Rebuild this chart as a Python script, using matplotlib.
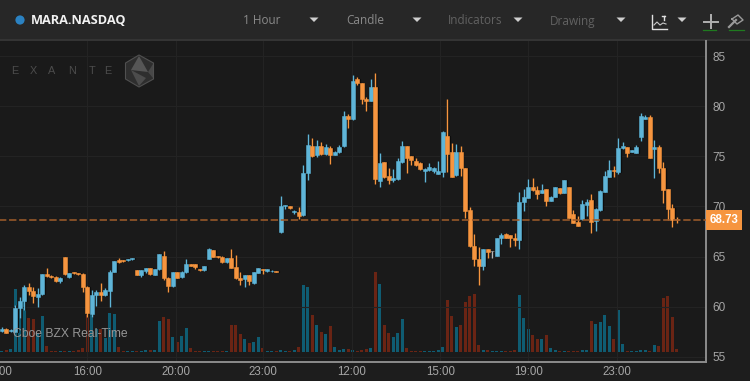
# -*- coding: utf-8 -*-
import matplotlib
matplotlib.use("Agg")
import numpy as np
import matplotlib.pyplot as plt
from matplotlib.patches import Polygon, Circle, Rectangle

# hourly candles
opens = [57.61, 57.81, 57.55, 57.51, 59.84, 60.61, 61.93, 61.57, 61.00, 61.27,
         63.26, 63.10, 63.00, 62.57, 64.93, 62.93, 63.46, 63.33, 63.26, 62.00,
         59.28, 61.17, 61.50, 61.17, 61.60, 63.50, 64.66, 64.66, 64.63, 64.73,
         63.66, 63.16, 63.60, 63.83, 63.20, 63.76, 65.06, 62.90, 62.10, 63.43,
         62.93, 63.43, 64.26, 64.23, 63.76, 63.66, 64.79, 65.66, 65.09, 65.00,
         64.43, 64.86, 64.00, 62.90, 62.76, 63.16, 62.33, 63.40, 63.76, 63.56,
         63.53, 63.55, 67.42, 70.01, 70.04, 69.41, 69.44, 69.11, 73.37, 76.02,
         75.09, 76.02, 75.23, 75.82, 75.16, 75.39, 76.02, 79.01, 78.68, 82.70,
         82.30, 80.71, 80.54, 81.94, 72.57, 74.43, 73.00, 72.60, 72.73, 74.43,
         76.02, 75.03, 74.57, 74.37, 73.54, 73.63, 73.50, 73.27, 73.44, 76.99,
         75.46, 73.14, 75.40, 73.80, 69.65, 66.09, 64.76, 64.07, 65.73, 65.60,
         65.09, 66.82, 67.29, 67.12, 66.82, 66.69, 70.44, 70.84, 71.91, 71.61,
         71.31, 71.74, 70.54, 70.94, 71.80, 71.37, 71.90, 69.25, 68.45, 68.71,
         70.14, 70.61, 68.55, 69.61, 71.47, 72.93, 73.60, 73.40, 75.79, 75.92,
         75.43, 75.33, 76.92, 78.72, 78.95, 75.69, 75.92, 73.86, 71.70, 69.84,
         68.73]
highs = [58.01, 57.85, 57.75, 60.17, 61.00, 62.17, 62.33, 62.00, 61.83, 63.30,
         63.83, 63.15, 63.05, 63.00, 64.95, 63.40, 63.50, 63.35, 63.33, 62.05,
         61.67, 61.67, 62.33, 61.83, 63.66, 64.60, 64.83, 64.68, 64.80, 64.90,
         63.70, 63.70, 63.90, 63.85, 63.80, 65.30, 65.59, 62.95, 63.50, 63.45,
         63.55, 64.76, 64.30, 64.25, 63.78, 64.10, 65.90, 65.70, 65.10, 65.02,
         64.85, 65.72, 65.16, 63.50, 63.20, 63.20, 63.45, 63.90, 63.80, 63.78,
         63.65, 63.55, 71.04, 70.18, 70.06, 69.60, 69.98, 74.13, 77.22, 76.85,
         76.62, 76.46, 76.22, 76.02, 75.50, 76.09, 79.48, 79.21, 83.07, 82.87,
         82.32, 80.88, 82.67, 83.30, 75.36, 74.45, 73.86, 73.76, 74.86, 76.49,
         76.05, 75.05, 74.80, 74.40, 73.83, 74.30, 73.90, 74.53, 77.50, 80.71,
         76.29, 76.19, 76.03, 73.82, 69.91, 67.25, 65.93, 65.75, 65.75, 65.60,
         66.88, 67.39, 67.35, 67.14, 67.39, 71.41, 71.71, 72.74, 72.80, 72.04,
         72.24, 71.76, 71.00, 71.92, 71.82, 72.65, 71.92, 69.64, 69.05, 70.64,
         70.71, 71.21, 69.80, 71.60, 73.53, 74.60, 74.03, 76.79, 76.46, 75.95,
         75.65, 76.09, 79.28, 79.15, 79.11, 76.62, 76.12, 74.43, 71.72, 70.21,
         68.91]
lows = [57.48, 57.40, 57.50, 57.45, 58.84, 59.67, 61.17, 60.41, 59.94, 61.20,
        63.00, 62.90, 62.50, 62.40, 63.20, 62.90, 63.30, 63.20, 61.44, 59.01,
        58.94, 60.07, 60.61, 61.10, 60.01, 63.45, 64.33, 64.50, 64.60, 64.70,
        63.15, 63.00, 63.40, 63.20, 63.15, 63.70, 62.67, 61.50, 61.95, 62.85,
        62.85, 63.40, 64.05, 63.73, 63.60, 63.60, 64.75, 64.95, 64.90, 64.40,
        64.40, 63.85, 62.73, 62.17, 61.93, 62.17, 62.25, 63.35, 63.23, 63.50,
        63.50, 63.48, 67.40, 69.74, 69.78, 69.24, 68.75, 69.05, 72.63, 74.89,
        74.89, 75.13, 75.13, 74.20, 75.10, 75.29, 75.89, 77.78, 78.62, 82.14,
        80.21, 79.48, 80.51, 72.24, 71.90, 72.80, 72.24, 72.47, 72.63, 74.36,
        73.30, 74.10, 74.03, 73.65, 72.44, 73.57, 73.37, 73.24, 72.97, 73.47,
        72.95, 73.04, 73.04, 68.85, 65.93, 64.10, 62.20, 63.63, 64.83, 64.83,
        65.05, 66.26, 66.85, 65.96, 66.06, 65.79, 69.55, 70.81, 71.54, 70.71,
        71.30, 70.08, 70.50, 70.90, 71.20, 71.30, 68.80, 68.35, 68.05, 68.65,
        69.05, 67.38, 67.55, 69.54, 71.40, 72.90, 72.90, 73.23, 75.72, 74.96,
        75.40, 75.30, 76.49, 78.70, 74.84, 72.80, 73.37, 70.31, 68.65, 67.92,
        68.38]
closes = [57.81, 57.42, 57.68, 59.87, 60.61, 62.00, 61.57, 61.07, 61.27, 63.26,
          63.10, 62.93, 62.57, 62.90, 63.26, 63.36, 63.33, 63.23, 61.93, 59.34,
          61.17, 61.50, 61.17, 61.67, 63.50, 64.59, 64.43, 64.56, 64.76, 64.86,
          63.20, 63.66, 63.86, 63.26, 63.76, 65.22, 62.83, 62.10, 63.43, 62.90,
          63.50, 64.23, 64.09, 63.99, 63.63, 64.06, 65.76, 65.00, 64.93, 64.49,
          64.83, 63.90, 62.83, 62.67, 63.16, 62.57, 63.43, 63.86, 63.66, 63.73,
          63.60, 63.50, 70.04, 70.14, 69.88, 69.58, 69.05, 73.30, 76.12, 75.03,
          76.02, 75.26, 75.89, 75.13, 75.46, 75.96, 79.01, 78.72, 82.50, 82.34,
          80.74, 80.51, 81.94, 72.70, 74.36, 72.97, 72.60, 72.83, 74.53, 76.02,
          74.79, 74.66, 74.10, 73.70, 73.77, 73.97, 73.80, 73.50, 77.46, 75.23,
          72.97, 75.46, 73.83, 69.51, 66.06, 64.73, 64.10, 65.73, 65.46, 65.60,
          66.86, 67.16, 66.89, 66.89, 66.69, 70.48, 70.94, 71.91, 71.64, 71.28,
          71.64, 70.54, 70.94, 71.90, 71.37, 72.63, 68.85, 68.38, 68.08, 70.21,
          70.47, 68.48, 69.74, 71.57, 73.03, 73.60, 73.50, 75.86, 75.99, 75.29,
          75.63, 75.92, 79.01, 78.95, 74.86, 75.92, 73.80, 71.67, 69.78, 68.65,
          68.65]
volumes = [1, 2, 3, 63, 49, 62, 34, 33, 19, 36,
           6, .7, .7, .5, .5, 1, 1, 2, 4, 37,
           37, 23, 23, 14, 39, 38, 5, .5, .5, .5,
           .5, .5, 2, 2, 2, 31, 35, 33, 15, 10,
           16, 24, 4, .5, .5, .5, .5, .5, .5, .5,
           .7, 27, 27, 18, 13, 9, 10, 15, 4, .5,
           .5, .5, 2, .5, .5, 2, 5, 67, 65, 37,
           27, 20, 18, 26, 5, 2, 3, 3, 2, .5,
           1.5, 3, 3.5, 80, 68, 27, 19, 15, 19, 33,
           4, .5, .5, .5, .5, .5, .5, 2, 5, 52,
           36, 25, 27, 50, 56, 58, 7, 2, 2, .5,
           .5, .5, .5, 1, 2, 57, 34, 23, 17, 13,
           13, 17, 4, 2, .5, .5, .5, .5, .5, 2,
           2, 31, 28, 30, 37, 26, 13, 42, 8, .5,
           .5, .5, 2, 2, .5, 7, 6, 54, 56, 35,
           3]
price_ticks = [55, 60, 65, 70, 75, 80, 85]
time_labels = ["13:00", "16:00", "20:00", "23:00", "12:00", "15:00", "19:00", "23:00"]
time_pos = [-0.9, 19.0, 38.8, 58.1, 77.8, 97.5, 117.0, 136.8]
last_price = 68.73
last_line = 68.65  # where the dashed line sits on the price scale in the picture

UP = "#5fb5d8"
DOWN = "#f6953f"
VOL_UP = "#0f5c72"
VOL_DOWN = "#6a2414"
BG = "#1a1a1a"
BAR = "#272727"
AXIS = "#8c8c8c"
GRID = "#232323"

W, H = 750, 381
fig = plt.figure(figsize=(7.5, 3.81), dpi=100, facecolor="#1d1d1d")


def px_axes(left, top, right, bottom, **kw):
    return fig.add_axes([left / W, 1 - bottom / H, (right - left) / W, (bottom - top) / H], **kw)


# chrome in the background, pixel coordinates
bg = fig.add_axes([0, 0, 1, 1])
bg.set_xlim(0, W)
bg.set_ylim(H, 0)
bg.axis("off")
bg.add_patch(Rectangle((0, 0), W, 39, color=BAR, lw=0))
bg.add_patch(Rectangle((0, 39), W, 2, color="#343434", lw=0))
bg.add_patch(Rectangle((0, 41), 705, 321, color=BG, lw=0))

n = len(opens)
x = np.arange(n)
o = np.array(opens)
c = np.array(closes)
hi = np.array(highs)
lo = np.array(lows)

left_px, right_px, top_px, bottom_px = -4, 705.5, 41, 362

# volume sits under the candles in its own axes
vax = px_axes(left_px, top_px, right_px, bottom_px, facecolor="none")
vax.set_xlim((left_px - 1.7) / 4.5, (right_px - 1.7) / 4.5)
vax.set_ylim(-10.3, 310.7)
vol_cols = [VOL_UP if c[i] >= o[i] else VOL_DOWN for i in range(n)]
vax.bar(x, volumes, width=0.74, color=vol_cols, linewidth=0)
vax.axis("off")

ax = px_axes(left_px, top_px, right_px, bottom_px, facecolor="none")
ax.set_xlim(vax.get_xlim())
ax.set_ylim(85 - (bottom_px - 56) / 10.03, 85 + (56 - top_px) / 10.03)

ax.set_xticks(time_pos)
ax.set_xticklabels(time_labels, fontsize=8.3, color="#a6a6a6", family="Liberation Sans")
ax.set_yticks(price_ticks)
ax.set_yticklabels([str(p) for p in price_ticks], fontsize=8.5, color="#a6a6a6", family="Liberation Sans")
ax.yaxis.tick_right()
ax.tick_params(length=0, pad=3.2)
ax.tick_params(axis="y", pad=5)
ax.grid(True, color=GRID, linewidth=0.8)
ax.set_axisbelow(True)
for s in ["top", "left"]:
    ax.spines[s].set_visible(False)
for s in ["right", "bottom"]:
    ax.spines[s].set_color(AXIS)
    ax.spines[s].set_linewidth(1.4)

cols = [UP if c[i] > o[i] else (DOWN if c[i] < o[i] else "#b5b5b5") for i in range(n)]
body = np.abs(c - o)
base = np.minimum(o, c)
# dark halo under each candle, then wick and body
ax.bar(x + 0.08, body, bottom=base, width=0.9, color="#0c0c0c", edgecolor="#0c0c0c", linewidth=0.9, zorder=3)
ax.vlines(x + 0.15, lo, hi, colors="#0c0c0c", linewidth=1.0, zorder=3.1)
ax.vlines(x, lo, hi, colors=cols, linewidth=1.0, zorder=3.2)
ax.bar(x, body, bottom=base, width=0.8, color=cols, edgecolor=cols, linewidth=0.4, zorder=4)

ax.axhline(last_line, color="#9c5a2a", linewidth=1.15, dashes=(4.6, 1.7), zorder=5)

# price tag
ax.annotate(f"{last_price:.2f}", xy=(1, last_line), xycoords=("axes fraction", "data"),
            xytext=(2.9, 0), textcoords="offset points", ha="left", va="center",
            fontsize=8.3, fontweight="bold", color="white", family="Liberation Sans",
            annotation_clip=False, zorder=7,
            bbox=dict(boxstyle="square,pad=0.32", fc="#f6953f", ec="#f6953f", lw=0))

ax.text(13 / 4.5 - 0.38, 60 - 2.67, "Cboe BZX Real-Time", fontsize=8.7, color="#969696",
        family="Liberation Sans", va="center", ha="left", zorder=6)

# header and watermark on top, pixel coordinates again
top = fig.add_axes([0, 0, 1, 1], facecolor="none")
top.set_xlim(0, W)
top.set_ylim(H, 0)
top.axis("off")

top.add_patch(Circle((20, 20), 4.6, color="#2b82c2", lw=0))
top.text(31, 20.5, "MARA.NASDAQ", fontsize=9.2, fontweight="bold", color="#f2f2f2",
         family="Open Sans", va="center", ha="left")
menu = [("1 Hour", 243, "#8a8a8a", 314), ("Candle", 346, "#8a8a8a", 417),
        ("Indicators", 448, "#626262", 518), ("Drawing", 550, "#626262", 621)]
for label, xp, col, tri in menu:
    top.text(xp, 21, label, fontsize=8.5, color=col, family="Open Sans", va="center", ha="left")
    top.add_patch(Polygon([[tri - 4.5, 17.5], [tri + 4.5, 17.5], [tri, 22]], color="#cfcfcf", lw=0))
top.add_patch(Polygon([[682 - 4.5, 17.5], [682 + 4.5, 17.5], [682, 22]], color="#cfcfcf", lw=0))

# chart icon
top.plot([652, 652, 667], [15, 29, 29], color="#e0e0e0", lw=1)
top.plot([654, 657, 660, 663, 666], [25, 22, 25, 23, 24], color="#c8c8c8", lw=0.8)
top.plot([662, 665, 663.5, 663.5], [16, 16, 16, 20], color="#e0e0e0", lw=1)
# plus and gavel
top.plot([704, 718], [22, 22], color="#b0b0b0", lw=1.4)
top.plot([711, 711], [15, 28], color="#b0b0b0", lw=1.4)
top.plot([703, 716], [29.5, 29.5], color="#1f7a1f", lw=0.9)
top.plot([729, 736], [27, 20], color="#9a9a9a", lw=1.6)
top.plot([732, 738, 743, 737, 732], [19, 15, 20, 24, 19], color="#9a9a9a", lw=1)
top.plot([729, 744], [29.5, 29.5], color="#1f7a1f", lw=0.9)

# EXANTE mark
for letter, xp in zip("EXANTE", [15, 33, 52, 72, 92, 108]):
    top.text(xp, 71, letter, fontsize=7.8, color="#4c4c4c", family="Liberation Sans", va="center", ha="center")
hexa = [[139, 55], [153.5, 63], [153.5, 79], [139, 87], [125.5, 79], [125.5, 63]]
top.add_patch(Polygon(hexa, closed=True, fc="#2e2e2e", ec="#505050", lw=0.8))
top.add_patch(Polygon([[139, 56], [148, 72], [131, 70]], closed=True, fc="#565656", lw=0))
top.add_patch(Polygon([[131, 70], [139, 86], [146, 78]], closed=True, fc="#4c4c4c", lw=0))
top.add_patch(Polygon([[148, 72], [153, 64], [153, 78]], closed=True, fc="#484848", lw=0))

fig.savefig("out.png", dpi=100, facecolor=fig.get_facecolor())
